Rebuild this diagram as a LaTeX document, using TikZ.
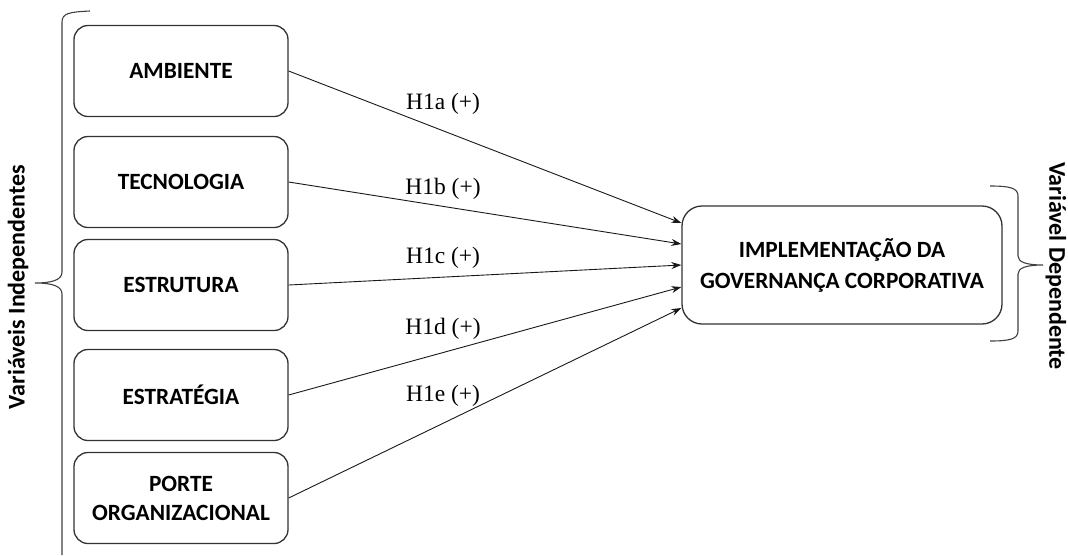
\documentclass[tikz,border=0pt]{standalone}
\usepackage{fontspec}
\setmainfont{Liberation Serif}
\newfontfamily\boxfont{Carlito}
\usetikzlibrary{arrows.meta}
\tikzset{
  varbox/.style={draw=black!80, line width=1.3pt, rounded corners=14pt, minimum width=214pt, minimum height=91pt, align=center, font=\boxfont\bfseries\fontsize{23.3}{29}\selectfont, inner sep=0pt},
  govbox/.style={draw=black!80, line width=1.3pt, rounded corners=20pt, minimum width=320pt, minimum height=118pt, align=center, font=\boxfont\bfseries\fontsize{23.3}{31}\selectfont, inner sep=0pt},
  hyp/.style={-{Stealth[length=10pt,width=7pt]}, line width=0.9pt, black!90},
  hyplab/.style={font=\fontsize{23.5}{26}\selectfont, inner sep=0pt},
  bracepath/.style={line width=1.1pt, black!75},
  sidelab/.style={font=\boxfont\bfseries\fontsize{24}{26}\selectfont, inner sep=0pt}
}
\begin{document}
\begin{tikzpicture}[x=1pt,y=-1pt]
\useasboundingbox (0,0) rectangle (1068,555);
\node[varbox] (a1) at (181,71) {AMBIENTE};
\node[varbox] (a2) at (181,182) {TECNOLOGIA};
\node[varbox] (a3) at (181,285) {ESTRUTURA};
\node[varbox] (a4) at (181,395) {ESTRATÉGIA};
\node[varbox] (a5) at (181,498) {PORTE\\ORGANIZACIONAL};
\node[govbox] (gov) at (842,265) {IMPLEMENTAÇÃO DA\\GOVERNANÇA CORPORATIVA};
\coordinate (g1) at ([yshift=42pt]gov.west);
\coordinate (g2) at ([yshift=21pt]gov.west);
\coordinate (g3) at ([yshift=0pt]gov.west);
\coordinate (g4) at ([yshift=-22pt]gov.west);
\coordinate (g5) at ([yshift=-43pt]gov.west);
\draw[hyp] (a1.east) -- (g1);
\draw[hyp] (a2.east) -- (g2);
\draw[hyp] (a3.east) -- (g3);
\draw[hyp] (a4.east) -- (g4);
\draw[hyp] (a5.east) -- (g5);
\node[hyplab] (l1) at (443,104) {H1a (+)};
\node[hyplab] (l2) at (443,189) {H1b (+)};
\node[hyplab] (l3) at (443,258) {H1c (+)};
\node[hyplab] (l4) at (443,329) {H1d (+)};
\node[hyplab] (l5) at (443,396) {H1e (+)};
% left brace
\draw[bracepath] (90,11) .. controls (70,12) and (62,13) .. (62,22) -- (62,272)
  .. controls (62,280) and (52,283) .. (35,283)
  .. controls (52,283) and (62,286) .. (62,294) -- (62,555);
\node[sidelab, rotate=90] (lv) at (18,287) {Variáveis Independentes};
% right brace
\draw[bracepath] (990,186) .. controls (1010,186) and (1018,188) .. (1018,196) -- (1018,256)
  .. controls (1018,262) and (1026,265) .. (1043,265)
  .. controls (1026,265) and (1018,268) .. (1018,274) -- (1018,331)
  .. controls (1018,339) and (1010,341) .. (990,341);
\node[sidelab, rotate=-90] (rv) at (1056,266) {Variável Dependente};
\end{tikzpicture}
\end{document}
